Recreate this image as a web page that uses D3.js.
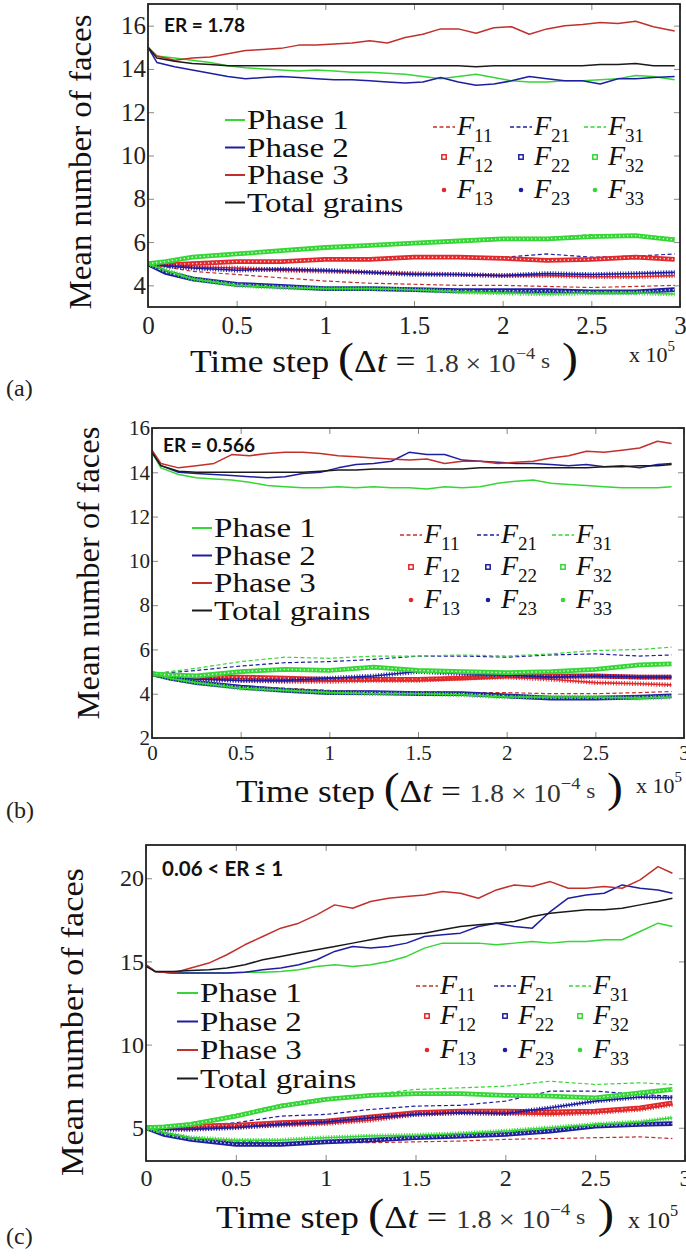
<!DOCTYPE html>
<html>
<head>
<meta charset="utf-8">
<script src="https://cdn.jsdelivr.net/npm/d3@7"></script>
<style>
  body { margin: 0; background: #fff; }
  .tick line { stroke: #888; stroke-width: 1; }
  .serif { font-family: "Liberation Serif", "Times New Roman", Tinos, "DejaVu Serif", serif; }
  .sans { font-family: Lato, "Open Sans", sans-serif; }
</style>
</head>
<body>
<script>
var tTopA  = [0, 0.05, 0.15, 0.25, 0.35, 0.45, 0.55, 0.65, 0.75, 0.85, 0.95, 1.05, 1.15, 1.25, 1.35, 1.45, 1.55, 1.65, 1.75, 1.85, 1.95, 2.05, 2.15, 2.25, 2.35, 2.45, 2.55, 2.65, 2.75, 2.85, 2.97];
var tTopBC = [0, 0.05, 0.15, 0.25, 0.35, 0.45, 0.55, 0.65, 0.75, 0.85, 0.95, 1.05, 1.15, 1.25, 1.35, 1.45, 1.55, 1.65, 1.75, 1.85, 1.95, 2.05, 2.15, 2.25, 2.35, 2.45, 2.55, 2.65, 2.75, 2.85, 2.93];
var tLowA  = [0, 0.1, 0.25, 0.5, 0.75, 1, 1.25, 1.5, 1.75, 2, 2.25, 2.5, 2.75, 2.97];
var tLowBC = [0, 0.1, 0.25, 0.5, 0.75, 1, 1.25, 1.5, 1.75, 2, 2.25, 2.5, 2.75, 2.93];

var xTicks = [0, 0.5, 1, 1.5, 2, 2.5, 3];
var xTickLabels = ["0", "0.5", "1", "1.5", "2", "2.5", "3"];
var yTicksA = [4, 6, 8, 10, 12, 14, 16];
var yTicksB = [2, 4, 6, 8, 10, 12, 14, 16];
var yTicksC = [5, 10, 15, 20];

// ---- panel (a), ER = 1.78 ----
var phase1A = [15.0, 14.6, 14.5, 14.4, 14.3, 14.15, 14.05, 14.0, 13.95, 13.9, 13.95, 13.9, 13.85, 13.85, 13.8, 13.75, 13.65, 13.55, 13.65, 13.75, 13.6, 13.45, 13.4, 13.4, 13.45, 13.45, 13.5, 13.55, 13.7, 13.65, 13.5];
var phase2A = [15.0, 14.3, 14.1, 13.95, 13.8, 13.65, 13.55, 13.6, 13.65, 13.6, 13.55, 13.5, 13.5, 13.45, 13.4, 13.35, 13.4, 13.6, 13.4, 13.25, 13.3, 13.45, 13.65, 13.55, 13.45, 13.45, 13.3, 13.55, 13.55, 13.6, 13.65];
var phase3A = [15.0, 14.6, 14.4, 14.5, 14.55, 14.7, 14.85, 14.9, 14.95, 15.1, 15.1, 15.15, 15.2, 15.3, 15.2, 15.45, 15.6, 15.85, 15.85, 15.65, 15.9, 15.95, 15.6, 15.85, 16.0, 16.05, 16.15, 16.1, 16.2, 15.95, 15.75];
var totalA  = [15.0, 14.5, 14.35, 14.25, 14.2, 14.15, 14.15, 14.15, 14.15, 14.15, 14.15, 14.15, 14.15, 14.15, 14.15, 14.15, 14.15, 14.15, 14.15, 14.1, 14.15, 14.15, 14.15, 14.15, 14.15, 14.15, 14.2, 14.2, 14.25, 14.15, 14.15];
var f11A = [5.0, 4.85, 4.65, 4.5, 4.35, 4.2, 4.1, 4.05, 4.0, 4.0, 3.95, 3.9, 3.95, 4.0];
var f21A = [5.0, 4.95, 5.0, 5.1, 5.1, 5.15, 5.2, 5.25, 5.3, 5.3, 5.45, 5.3, 5.35, 5.45];
var f31A = [5.0, 5.1, 5.3, 5.5, 5.6, 5.75, 5.85, 6.0, 6.05, 6.2, 6.2, 6.35, 6.3, 6.2];
var f12A = [5.0, 4.95, 5.0, 5.1, 5.1, 5.2, 5.2, 5.3, 5.3, 5.25, 5.15, 5.2, 5.3, 5.2];
var f22A = [5.0, 4.6, 4.3, 4.05, 3.95, 3.85, 3.85, 3.8, 3.75, 3.75, 3.75, 3.7, 3.7, 3.8];
var f32A = [5.0, 5.1, 5.3, 5.45, 5.6, 5.75, 5.85, 5.95, 6.05, 6.15, 6.15, 6.25, 6.3, 6.1];
var f13A = [5.0, 4.95, 4.85, 4.8, 4.7, 4.65, 4.6, 4.55, 4.5, 4.45, 4.45, 4.4, 4.4, 4.45];
var f23A = [5.0, 4.9, 4.8, 4.7, 4.75, 4.7, 4.6, 4.5, 4.5, 4.45, 4.55, 4.5, 4.55, 4.6];
var f33A = [5.0, 4.7, 4.3, 4.0, 3.9, 3.85, 3.85, 3.8, 3.7, 3.65, 3.6, 3.65, 3.65, 3.6];

// ---- panel (b), ER = 0.566 ----
var phase1B = [14.9, 14.2, 13.9, 13.75, 13.7, 13.65, 13.55, 13.4, 13.35, 13.3, 13.3, 13.35, 13.3, 13.35, 13.3, 13.3, 13.25, 13.35, 13.3, 13.35, 13.5, 13.6, 13.65, 13.5, 13.45, 13.4, 13.35, 13.3, 13.3, 13.3, 13.35];
var phase2B = [14.9, 14.3, 14.0, 13.95, 13.9, 13.85, 13.8, 13.75, 13.8, 13.95, 14.0, 14.2, 14.35, 14.4, 14.5, 14.9, 14.8, 14.8, 14.55, 14.5, 14.45, 14.4, 14.4, 14.35, 14.3, 14.35, 14.25, 14.3, 14.2, 14.35, 14.4];
var phase3B = [15.0, 14.4, 14.2, 14.3, 14.4, 14.8, 14.75, 14.85, 14.9, 14.9, 14.85, 14.75, 14.7, 14.65, 14.6, 14.55, 14.6, 14.4, 14.5, 14.5, 14.4, 14.45, 14.5, 14.65, 14.75, 14.95, 14.9, 15.0, 15.1, 15.4, 15.3];
var totalB  = [14.9, 14.3, 14.05, 14.0, 14.0, 14.0, 14.0, 14.0, 14.0, 14.0, 14.05, 14.1, 14.1, 14.15, 14.15, 14.15, 14.15, 14.15, 14.15, 14.2, 14.2, 14.2, 14.2, 14.2, 14.2, 14.2, 14.25, 14.25, 14.3, 14.3, 14.35];
var f11B = [4.9, 4.75, 4.55, 4.35, 4.25, 4.15, 4.1, 4.1, 4.05, 4.05, 4.0, 4.0, 4.05, 4.1];
var f21B = [4.9, 4.95, 5.05, 5.25, 5.4, 5.45, 5.55, 5.7, 5.7, 5.65, 5.75, 5.8, 5.7, 5.75];
var f31B = [4.9, 5.0, 5.15, 5.45, 5.65, 5.6, 5.7, 5.7, 5.75, 5.7, 5.8, 5.95, 6.0, 6.1];
var f12B = [4.9, 4.8, 4.75, 4.75, 4.7, 4.65, 4.65, 4.65, 4.7, 4.8, 4.8, 4.8, 4.75, 4.75];
var f22B = [4.9, 4.7, 4.5, 4.3, 4.15, 4.05, 4.05, 4.0, 4.0, 3.9, 3.8, 3.8, 3.85, 3.9];
var f32B = [4.9, 4.85, 4.8, 5.0, 5.1, 5.05, 5.2, 5.05, 5.0, 4.95, 5.0, 5.1, 5.3, 5.35];
var f13B = [4.9, 4.8, 4.7, 4.6, 4.55, 4.55, 4.6, 4.6, 4.7, 4.75, 4.65, 4.5, 4.45, 4.4];
var f23B = [4.9, 4.75, 4.65, 4.6, 4.6, 4.7, 4.8, 5.0, 4.9, 4.85, 4.75, 4.8, 4.75, 4.75];
var f33B = [4.9, 4.7, 4.5, 4.25, 4.15, 4.05, 4.0, 4.0, 3.95, 3.85, 3.85, 3.85, 3.8, 3.85];

// ---- panel (c), 0.06 < ER <= 1 ----
var phase1C = [14.8, 14.4, 14.3, 14.3, 14.3, 14.3, 14.35, 14.35, 14.4, 14.5, 14.7, 14.8, 14.7, 14.8, 15.0, 15.3, 15.8, 16.1, 16.1, 16.1, 16.0, 16.1, 16.2, 16.1, 16.2, 16.2, 16.3, 16.3, 16.8, 17.3, 17.1];
var phase2C = [14.8, 14.4, 14.3, 14.3, 14.3, 14.3, 14.35, 14.5, 14.6, 14.8, 15.1, 15.6, 15.9, 15.8, 15.9, 16.1, 16.5, 16.6, 16.7, 17.1, 17.3, 17.1, 17.0, 18.0, 18.8, 19.0, 19.1, 19.6, 19.4, 19.3, 19.1];
var phase3C = [14.8, 14.4, 14.3, 14.6, 14.9, 15.4, 16.0, 16.5, 17.0, 17.3, 17.8, 18.4, 18.2, 18.6, 18.8, 18.9, 19.0, 19.2, 19.1, 18.8, 19.3, 19.6, 19.5, 19.8, 19.4, 19.4, 19.5, 19.4, 19.9, 20.7, 20.3];
var totalC  = [14.7, 14.4, 14.4, 14.45, 14.5, 14.6, 14.8, 15.1, 15.3, 15.5, 15.7, 15.9, 16.1, 16.3, 16.5, 16.6, 16.7, 16.9, 17.1, 17.2, 17.3, 17.4, 17.7, 17.9, 18.0, 18.1, 18.1, 18.2, 18.4, 18.6, 18.8];
var f11C = [5.0, 4.6, 4.4, 4.2, 4.1, 4.1, 4.1, 4.15, 4.2, 4.3, 4.35, 4.4, 4.45, 4.35];
var f21C = [5.0, 5.0, 5.1, 5.3, 5.7, 5.8, 6.1, 6.3, 6.35, 6.6, 7.2, 7.2, 7.0, 6.9];
var f31C = [5.0, 5.1, 5.3, 5.8, 6.4, 6.8, 7.0, 7.3, 7.4, 7.5, 7.8, 7.6, 7.7, 7.6];
var f12C = [5.0, 5.0, 5.1, 5.15, 5.3, 5.4, 5.65, 5.9, 6.0, 6.0, 5.95, 6.0, 6.2, 6.5];
var f22C = [5.0, 4.6, 4.3, 4.0, 4.0, 4.15, 4.25, 4.4, 4.5, 4.6, 4.8, 5.1, 5.2, 5.25];
var f32C = [5.0, 5.05, 5.2, 5.7, 6.3, 6.7, 6.95, 7.05, 7.05, 6.95, 6.9, 6.8, 7.1, 7.3];
var f13C = [5.0, 4.95, 4.95, 5.05, 5.15, 5.25, 5.45, 5.8, 5.9, 5.85, 5.8, 5.9, 6.1, 6.4];
var f23C = [5.0, 4.9, 4.9, 5.0, 5.2, 5.35, 5.6, 5.8, 5.9, 5.85, 6.2, 6.6, 6.85, 6.8];
var f33C = [5.0, 4.7, 4.4, 4.25, 4.25, 4.4, 4.5, 4.55, 4.65, 4.8, 5.0, 5.2, 5.35, 5.6];

// colours
var green = "#36d636", blue = "#1e1ea0", red = "#c2302c", redMk = "#e2282a", black = "#1a1a1a";

var phaseInfo = [
    {name: "Phase 1", color: green},
    {name: "Phase 2", color: blue},
    {name: "Phase 3", color: red},
    {name: "Total grains", color: black}
];

// face series: id, colour, style, legend column / row
var faceInfo = [
    {id: "11", color: red, kind: "dash", col: 0, row: 0},
    {id: "21", color: blue, kind: "dash", col: 1, row: 0},
    {id: "31", color: green, kind: "dash", col: 2, row: 0},
    {id: "12", color: redMk, kind: "square", col: 0, row: 1},
    {id: "13", color: redMk, kind: "cross", col: 0, row: 2},
    {id: "22", color: blue, kind: "square", col: 1, row: 1},
    {id: "23", color: blue, kind: "cross", col: 1, row: 2},
    {id: "32", color: green, kind: "square", col: 2, row: 1},
    {id: "33", color: green, kind: "cross", col: 2, row: 2}
];

var panels = [
    {
        tag: "(a)", er: "ER = 1.78", erSize: 19,
        left: 148, right: 680, top: 4, bottom: 307, yDomain: [3, 17], yTicks: yTicksA,
        tTop: tTopA, tLow: tLowA,
        phases: [phase1A, phase2A, phase3A, totalA],
        faces: {"11": f11A, "21": f21A, "31": f31A, "12": f12A, "22": f22A, "32": f32A, "13": f13A, "23": f23A, "33": f33A},
        tickFont: 25, xPad: 9,
        erPos: [164, 32], tagPos: [6, 396],
        yTitle: [80, 162, 295], xTitle: [190, 372, 388, 31], xPow: [629, 362, 22],
        legPhase: [225, 120, 27.5, 247], legFace: [[433, 510, 584], [127, 157, 190]]
    },
    {
        tag: "(b)", er: "ER = 0.566", erSize: 19,
        left: 152, right: 684, top: 428, bottom: 738, yDomain: [2, 16], yTicks: yTicksB,
        tTop: tTopBC, tLow: tLowBC,
        phases: [phase1B, phase2B, phase3B, totalB],
        faces: {"11": f11B, "21": f21B, "31": f31B, "12": f12B, "22": f22B, "32": f32B, "13": f13B, "23": f23B, "33": f33B},
        tickFont: 21, xPad: 7,
        erPos: [163, 452], tagPos: [6, 818],
        yTitle: [88, 573, 293], xTitle: [236, 802, 387, 32], xPow: [636, 793, 22],
        legPhase: [192, 528, 27.5, 214], legFace: [[400, 477, 552], [535, 567, 600]]
    },
    {
        tag: "(c)", er: "0.06 < ER \u2264 1", erSize: 20.5,
        left: 146, right: 685, top: 845, bottom: 1161, yDomain: [3, 22], yTicks: yTicksC,
        tTop: tTopBC, tLow: tLowBC,
        phases: [phase1C, phase2C, phase3C, totalC],
        faces: {"11": f11C, "21": f21C, "31": f31C, "12": f12C, "22": f22C, "32": f32C, "13": f13C, "23": f23C, "33": f33C},
        tickFont: 24, xPad: 8,
        erPos: [162, 876], tagPos: [6, 1244],
        yTitle: [72, 1022, 308], xTitle: [216, 1228, 398, 32], xPow: [628, 1228, 24],
        legPhase: [177, 993, 28.5, 200], legFace: [[416, 494, 569], [986, 1016, 1050]]
    }
];

var svg = d3.select("body").append("svg")
    .attr("width", 686)
    .attr("height", 1258);

function drawPanel(p, i) {
    var x = d3.scaleLinear().domain([0, 3]).range([p.left, p.right]);
    var y = d3.scaleLinear().domain(p.yDomain).range([p.bottom, p.top]);
    var g = svg.append("g").attr("class", "panel");

    g.append("clipPath").attr("id", "clip" + i)
        .append("rect")
        .attr("x", p.left).attr("y", p.top)
        .attr("width", p.right - p.left).attr("height", p.bottom - p.top);

    // inner tick marks on all four sides
    var tickLen = 6;
    g.append("g").attr("transform", "translate(0," + p.bottom + ")")
        .call(d3.axisBottom(x).tickValues(xTicks).tickSize(-tickLen).tickFormat(""));
    g.append("g").attr("transform", "translate(0," + p.top + ")")
        .call(d3.axisTop(x).tickValues(xTicks).tickSize(-tickLen).tickFormat(""));
    g.append("g").attr("transform", "translate(" + p.left + ",0)")
        .call(d3.axisLeft(y).tickValues(p.yTicks).tickSize(-tickLen).tickFormat(""));
    g.append("g").attr("transform", "translate(" + p.right + ",0)")
        .call(d3.axisRight(y).tickValues(p.yTicks).tickSize(-tickLen).tickFormat(""));
    g.selectAll(".domain").remove();

    // tick labels
    var xl = g.append("g").attr("transform", "translate(0," + p.bottom + ")")
        .call(d3.axisBottom(x).tickValues(xTicks).tickSize(0).tickPadding(p.xPad)
            .tickFormat(function (d, k) { return xTickLabels[k]; }));
    var yl = g.append("g").attr("transform", "translate(" + p.left + ",0)")
        .call(d3.axisLeft(y).tickValues(p.yTicks).tickSize(0).tickPadding(2));
    [xl, yl].forEach(function (a) {
        a.select(".domain").remove();
        a.attr("font-family", null).attr("font-size", null);
        a.selectAll("text").attr("class", "serif").style("font-size", p.tickFont + "px").attr("fill", "#222");
    });

    var plot = g.append("g").attr("clip-path", "url(#clip" + i + ")");
    var line = d3.line()
        .x(function (d) { return x(d[0]); })
        .y(function (d) { return y(d[1]); });

    // face-count curves near 5
    faceInfo.forEach(function (f) {
        var pts = d3.zip(p.tLow, p.faces[f.id]);
        if (f.kind === "dash") {
            plot.append("path").attr("d", line(pts)).attr("fill", "none")
                .attr("stroke", f.color).attr("stroke-width", 1.2).attr("stroke-dasharray", "4,2.5");
        } else if (f.kind === "square") {
            plot.append("path").attr("d", line(pts)).attr("fill", "none")
                .attr("stroke", f.color).attr("stroke-width", 4.8);
            plot.append("path").attr("d", line(pts)).attr("fill", "none")
                .attr("stroke", "#fff").attr("stroke-width", 1.4).attr("stroke-dasharray", "1.4,2.6")
                .attr("opacity", 0.8);
        } else {
            plot.append("path").attr("d", line(pts)).attr("fill", "none")
                .attr("stroke", f.color).attr("stroke-width", 1.6);
            plot.append("path").attr("d", line(pts)).attr("fill", "none")
                .attr("stroke", f.color).attr("stroke-width", 4.6).attr("stroke-dasharray", "1,1.7");
        }
    });

    // phase curves near 14
    p.phases.forEach(function (vals, k) {
        plot.append("path").attr("d", line(d3.zip(p.tTop, vals)))
            .attr("fill", "none")
            .attr("stroke", phaseInfo[k].color)
            .attr("stroke-width", 1.5)
            .attr("stroke-linejoin", "round");
    });

    // frame
    g.append("rect")
        .attr("x", p.left).attr("y", p.top)
        .attr("width", p.right - p.left).attr("height", p.bottom - p.top)
        .attr("fill", "none").attr("stroke", "#222").attr("stroke-width", 1.8);

    // ER label
    g.append("text").text(p.er)
        .attr("class", "sans")
        .attr("x", p.erPos[0]).attr("y", p.erPos[1])
        .style("font-weight", "bold").style("font-size", p.erSize + "px").attr("fill", "#111");

    // phase legend
    var lp = p.legPhase;
    phaseInfo.forEach(function (d, k) {
        var cy = lp[1] + k * lp[2];
        g.append("line")
            .attr("x1", lp[0]).attr("x2", lp[3] - 2).attr("y1", cy).attr("y2", cy)
            .attr("stroke", d.color).attr("stroke-width", 2);
        var t = g.append("text").text(d.name)
            .attr("class", "serif")
            .attr("x", lp[3]).attr("y", cy + 9)
            .style("font-size", "28px").attr("fill", "#111");
        t.attr("textLength", t.node().getComputedTextLength() * 1.18)
            .attr("lengthAdjust", "spacingAndGlyphs");
    });

    // face legend (3 x 3)
    var lf = p.legFace;
    faceInfo.forEach(function (f) {
        var x0 = lf[0][f.col], cy = lf[1][f.row], cx = x0 + 11;
        if (f.kind === "dash") {
            g.append("line").attr("x1", x0).attr("x2", x0 + 22).attr("y1", cy).attr("y2", cy)
                .attr("stroke", f.color).attr("stroke-width", 1.3).attr("stroke-dasharray", "4,2.5");
        } else if (f.kind === "square") {
            g.append("rect").attr("x", cx - 2.2).attr("y", cy - 2.2).attr("width", 4.4).attr("height", 4.4)
                .attr("fill", "#fff").attr("stroke", f.color).attr("stroke-width", 1.5);
        } else {
            g.append("circle").attr("cx", cx).attr("cy", cy).attr("r", 2.3).attr("fill", f.color);
        }
        var t = g.append("text").attr("class", "serif").attr("x", x0 + 24).attr("y", cy + 8)
            .attr("fill", "#111");
        t.append("tspan").text("F").style("font-style", "italic").style("font-size", "28px");
        t.append("tspan").text(f.id).style("font-size", "19px").attr("dy", 7);
    });

    // axis titles
    var yt = p.yTitle;
    g.append("text").text("Mean number of faces")
        .attr("class", "serif")
        .attr("transform", "translate(" + yt[0] + "," + yt[1] + ") rotate(-90)")
        .attr("dy", "0.35em").attr("text-anchor", "middle")
        .style("font-size", "31px").attr("fill", "#111")
        .attr("textLength", yt[2]).attr("lengthAdjust", "spacingAndGlyphs");

    var xt = p.xTitle, s = xt[3];
    var tt = g.append("text").attr("class", "serif").attr("x", xt[0]).attr("y", xt[1])
        .style("font-size", s + "px").attr("fill", "#111");
    tt.append("tspan").text("Time step  ");
    tt.append("tspan").text("(").style("font-size", (s * 1.35) + "px");
    tt.append("tspan").text("\u0394");
    tt.append("tspan").text("t").style("font-style", "italic");
    tt.append("tspan").text(" = ");
    tt.append("tspan").text("1.8 \u00d7 10").style("font-size", (s * 0.78) + "px").attr("fill", "#333");
    tt.append("tspan").text("\u22124").style("font-size", (s * 0.52) + "px").attr("dy", -s * 0.42).attr("fill", "#333");
    tt.append("tspan").text("  s").style("font-size", (s * 0.66) + "px").attr("dy", s * 0.28).attr("fill", "#333");
    tt.append("tspan").text(" )").style("font-size", (s * 1.35) + "px").attr("dy", s * 0.14);
    tt.attr("textLength", xt[2]).attr("lengthAdjust", "spacingAndGlyphs");

    var xp = p.xPow;
    var pw = g.append("text").attr("class", "serif").attr("x", xp[0]).attr("y", xp[1])
        .style("font-size", xp[2] + "px").attr("fill", "#222");
    pw.append("tspan").text("x 10");
    pw.append("tspan").text("5").style("font-size", (xp[2] * 0.68) + "px").attr("dy", -xp[2] * 0.5);

    g.append("text").text(p.tag)
        .attr("class", "serif")
        .attr("x", p.tagPos[0]).attr("y", p.tagPos[1])
        .style("font-size", "24px").attr("fill", "#222");
}

panels.forEach(drawPanel);
</script>
</body>
</html>
